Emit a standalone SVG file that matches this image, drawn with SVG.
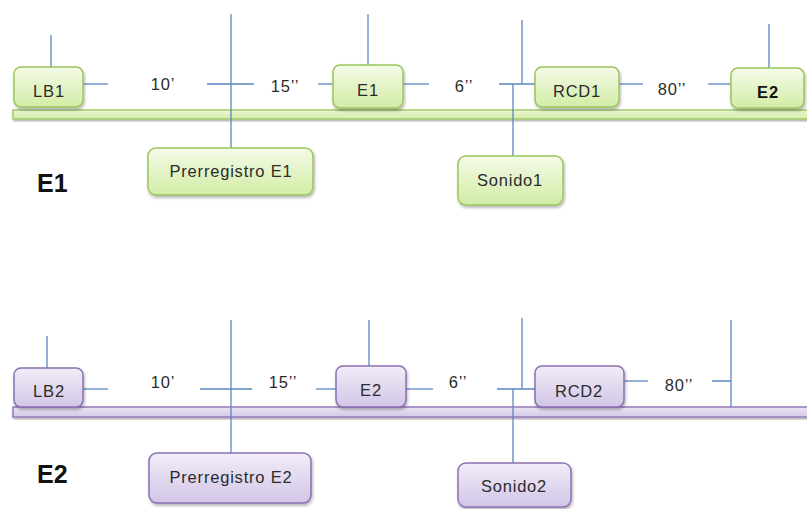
<svg xmlns="http://www.w3.org/2000/svg" width="807" height="509" viewBox="0 0 807 509">
<defs>
<linearGradient id="gG" x1="0" y1="0" x2="0" y2="1"><stop offset="0" stop-color="#f4fbe8"/><stop offset="1" stop-color="#d2eca5"/></linearGradient>
<linearGradient id="gP" x1="0" y1="0" x2="0" y2="1"><stop offset="0" stop-color="#f1edf8"/><stop offset="1" stop-color="#d2c5e7"/></linearGradient>
<linearGradient id="bG" x1="0" y1="0" x2="0" y2="1"><stop offset="0" stop-color="#eaf7d2"/><stop offset="1" stop-color="#d3eca8"/></linearGradient>
<linearGradient id="bP" x1="0" y1="0" x2="0" y2="1"><stop offset="0" stop-color="#ebe4f4"/><stop offset="1" stop-color="#d5c8e8"/></linearGradient>
<filter id="sh" x="-10%" y="-20%" width="125%" height="150%"><feDropShadow dx="1" dy="2" stdDeviation="1.5" flood-color="#000" flood-opacity="0.3"/></filter>
</defs>
<style>
.g{fill:url(#gG);stroke:#9cc45d;stroke-width:1.5;filter:url(#sh)}
.p{fill:url(#gP);stroke:#8a70b3;stroke-width:1.5;filter:url(#sh)}
.bg{fill:url(#bG);stroke:#a2c96a;stroke-width:1.5;filter:url(#sh)}
.bp{fill:url(#bP);stroke:#9479bb;stroke-width:1.5;filter:url(#sh)}
.ln{stroke:#5b87c2;stroke-width:1.3;fill:none}
text{font-family:"Liberation Sans",Arial,sans-serif;fill:#2b2b2b;font-size:16.5px;letter-spacing:0.8px}
.c{text-anchor:middle}
.big{font-size:25px;font-weight:bold;fill:#111;letter-spacing:0}
.b{font-weight:bold;fill:#111}
</style>

<g id="bar1"><rect class="bg" x="13" y="110" width="800" height="9"/></g>
<g id="bar2"><rect class="bp" x="13" y="407" width="800" height="10"/></g>

<g id="connectors">
<path class="ln" d="M51 35V67"/>
<path class="ln" d="M83 84H108"/>
<path class="ln" d="M207 84H254M231 14V148"/>
<path class="ln" d="M318 84H334"/>
<path class="ln" d="M368 14V65"/>
<path class="ln" d="M403 84H429"/>
<path class="ln" d="M499 84H535M513 84V156M522 20V84"/>
<path class="ln" d="M619 84H643"/>
<path class="ln" d="M708 84H731"/>
<path class="ln" d="M769 24V68"/>
<path class="ln" d="M47 336V368"/>
<path class="ln" d="M83 389H108"/>
<path class="ln" d="M200 389H252M231 320V453"/>
<path class="ln" d="M316 389H336"/>
<path class="ln" d="M369 320V366"/>
<path class="ln" d="M406 389H433"/>
<path class="ln" d="M497 389H535M513 389V463M522 318V389"/>
<path class="ln" d="M624 381H648"/>
<path class="ln" d="M712 381H731M731 320V407"/>
</g>

<g id="labels">
<text x="163" y="90" class="c">10’</text>
<text x="285" y="92" class="c">15’’</text>
<text x="464" y="92" class="c">6’’</text>
<text x="672" y="95" class="c">80’’</text>
<text x="163" y="388" class="c">10’</text>
<text x="283" y="388" class="c">15’’</text>
<text x="458" y="388" class="c">6’’</text>
<text x="679" y="391" class="c">80’’</text>
<text x="37" y="192" class="big">E1</text>
<text x="37" y="483" class="big">E2</text>
</g>

<g id="LB1"><rect class="g" x="14" y="67" width="69" height="40" rx="7"/><text x="49" y="97" class="c">LB1</text></g>
<g id="E1"><rect class="g" x="333" y="65" width="70" height="43" rx="7"/><text x="368" y="96" class="c">E1</text></g>
<g id="RCD1"><rect class="g" x="535" y="67" width="84" height="40" rx="7"/><text x="577" y="97" class="c">RCD1</text></g>
<g id="E2top"><rect class="g" x="731" y="68" width="73" height="40" rx="7"/><text x="768" y="98" class="c b">E2</text></g>
<g id="PrerregistroE1"><rect class="g" x="148" y="148" width="165" height="47" rx="8"/><text x="231" y="177" class="c">Prerregistro E1</text></g>
<g id="Sonido1"><rect class="g" x="458" y="156" width="105" height="49" rx="8"/><text x="510" y="186" class="c">Sonido1</text></g>

<g id="LB2"><rect class="p" x="14" y="368" width="69" height="39" rx="7"/><text x="49" y="397" class="c">LB2</text></g>
<g id="E2"><rect class="p" x="336" y="366" width="70" height="41" rx="7"/><text x="371" y="396" class="c">E2</text></g>
<g id="RCD2"><rect class="p" x="535" y="366" width="89" height="41" rx="7"/><text x="579" y="397" class="c">RCD2</text></g>
<g id="PrerregistroE2"><rect class="p" x="149" y="453" width="162" height="50" rx="8"/><text x="231" y="483" class="c">Prerregistro E2</text></g>
<g id="Sonido2"><rect class="p" x="458" y="463" width="113" height="44" rx="8"/><text x="514" y="492" class="c">Sonido2</text></g>
</svg>
